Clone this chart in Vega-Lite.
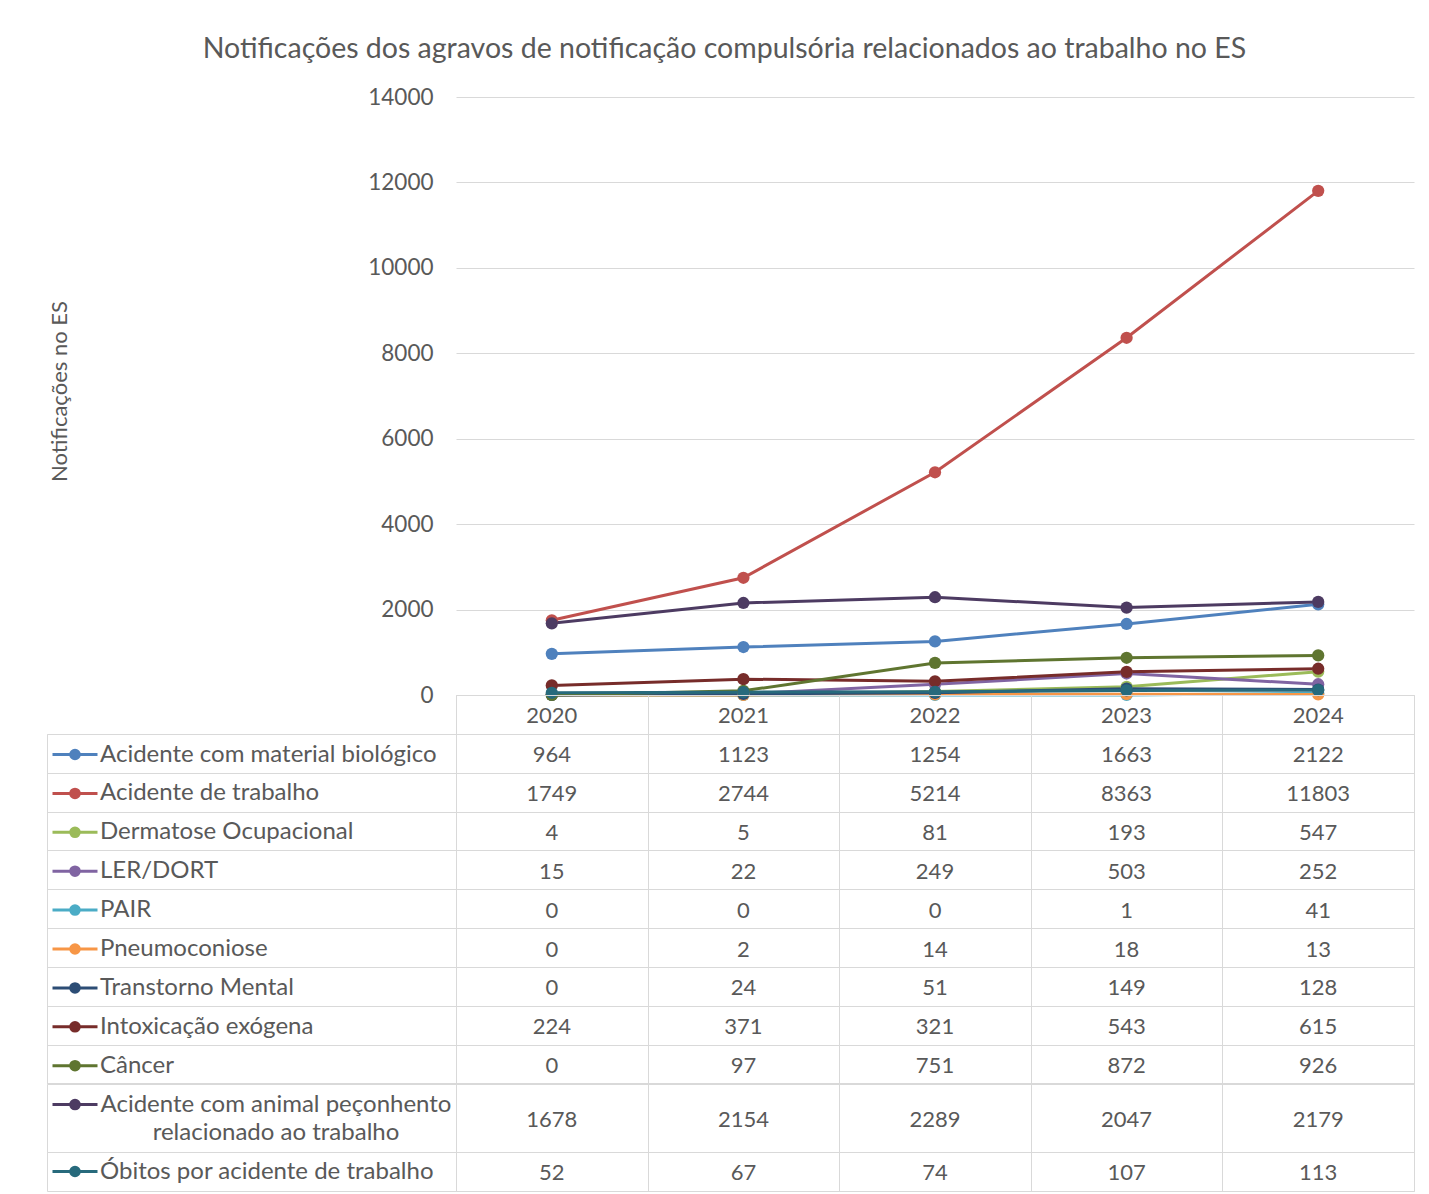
{
  "$schema": "https://vega.github.io/schema/vega-lite/v6.json",
  "background": "white",
  "padding": {"left": 46, "top": 34, "right": 16, "bottom": 4},
  "title": {
    "text": "Notificações dos agravos de notificação compulsória relacionados ao trabalho no ES",
    "font": "Lato", "fontSize": 28.5, "fontWeight": "normal", "color": "#595959",
    "anchor": "middle", "frame": "bounds", "dx": -6, "offset": 23
  },
  "datasets": {
    "d": [
      {"serie": "Acidente com material biológico", "year": "2020", "value": 964},
      {"serie": "Acidente com material biológico", "year": "2021", "value": 1123},
      {"serie": "Acidente com material biológico", "year": "2022", "value": 1254},
      {"serie": "Acidente com material biológico", "year": "2023", "value": 1663},
      {"serie": "Acidente com material biológico", "year": "2024", "value": 2122},
      {"serie": "Acidente de trabalho", "year": "2020", "value": 1749},
      {"serie": "Acidente de trabalho", "year": "2021", "value": 2744},
      {"serie": "Acidente de trabalho", "year": "2022", "value": 5214},
      {"serie": "Acidente de trabalho", "year": "2023", "value": 8363},
      {"serie": "Acidente de trabalho", "year": "2024", "value": 11803},
      {"serie": "Dermatose Ocupacional", "year": "2020", "value": 4},
      {"serie": "Dermatose Ocupacional", "year": "2021", "value": 5},
      {"serie": "Dermatose Ocupacional", "year": "2022", "value": 81},
      {"serie": "Dermatose Ocupacional", "year": "2023", "value": 193},
      {"serie": "Dermatose Ocupacional", "year": "2024", "value": 547},
      {"serie": "LER/DORT", "year": "2020", "value": 15},
      {"serie": "LER/DORT", "year": "2021", "value": 22},
      {"serie": "LER/DORT", "year": "2022", "value": 249},
      {"serie": "LER/DORT", "year": "2023", "value": 503},
      {"serie": "LER/DORT", "year": "2024", "value": 252},
      {"serie": "PAIR", "year": "2020", "value": 0},
      {"serie": "PAIR", "year": "2021", "value": 0},
      {"serie": "PAIR", "year": "2022", "value": 0},
      {"serie": "PAIR", "year": "2023", "value": 1},
      {"serie": "PAIR", "year": "2024", "value": 41},
      {"serie": "Pneumoconiose", "year": "2020", "value": 0},
      {"serie": "Pneumoconiose", "year": "2021", "value": 2},
      {"serie": "Pneumoconiose", "year": "2022", "value": 14},
      {"serie": "Pneumoconiose", "year": "2023", "value": 18},
      {"serie": "Pneumoconiose", "year": "2024", "value": 13},
      {"serie": "Transtorno Mental", "year": "2020", "value": 0},
      {"serie": "Transtorno Mental", "year": "2021", "value": 24},
      {"serie": "Transtorno Mental", "year": "2022", "value": 51},
      {"serie": "Transtorno Mental", "year": "2023", "value": 149},
      {"serie": "Transtorno Mental", "year": "2024", "value": 128},
      {"serie": "Intoxicação exógena", "year": "2020", "value": 224},
      {"serie": "Intoxicação exógena", "year": "2021", "value": 371},
      {"serie": "Intoxicação exógena", "year": "2022", "value": 321},
      {"serie": "Intoxicação exógena", "year": "2023", "value": 543},
      {"serie": "Intoxicação exógena", "year": "2024", "value": 615},
      {"serie": "Câncer", "year": "2020", "value": 0},
      {"serie": "Câncer", "year": "2021", "value": 97},
      {"serie": "Câncer", "year": "2022", "value": 751},
      {"serie": "Câncer", "year": "2023", "value": 872},
      {"serie": "Câncer", "year": "2024", "value": 926},
      {"serie": "Acidente com animal peçonhento relacionado ao trabalho", "year": "2020", "value": 1678},
      {"serie": "Acidente com animal peçonhento relacionado ao trabalho", "year": "2021", "value": 2154},
      {"serie": "Acidente com animal peçonhento relacionado ao trabalho", "year": "2022", "value": 2289},
      {"serie": "Acidente com animal peçonhento relacionado ao trabalho", "year": "2023", "value": 2047},
      {"serie": "Acidente com animal peçonhento relacionado ao trabalho", "year": "2024", "value": 2179},
      {"serie": "Óbitos por acidente de trabalho", "year": "2020", "value": 52},
      {"serie": "Óbitos por acidente de trabalho", "year": "2021", "value": 67},
      {"serie": "Óbitos por acidente de trabalho", "year": "2022", "value": 74},
      {"serie": "Óbitos por acidente de trabalho", "year": "2023", "value": 107},
      {"serie": "Óbitos por acidente de trabalho", "year": "2024", "value": 113}
    ]
  },
  "columns": 2,
  "spacing": 0,
  "bounds": "flush",
  "align": "each",
  "concat": [
    {
      "width": 409, "height": 598,
      "data": {"values": [{}]},
      "mark": {"type": "text", "text": ""}
    },
    {
      "width": 958, "height": 598,
      "data": {"name": "d"},
      "encoding": {
        "x": {"field": "year", "type": "ordinal", "axis": null},
        "y": {
          "field": "value", "type": "quantitative",
          "scale": {"domain": [0, 14000], "nice": false},
          "axis": {
            "values": [0, 2000, 4000, 6000, 8000, 10000, 12000, 14000],
            "format": "d", "labelFont": "Lato", "labelFontSize": 22.5, "labelColor": "#595959",
            "labelPadding": 23, "ticks": false, "domain": false,
            "grid": true, "gridColor": "#d9d9d9", "gridWidth": 1,
            "title": "Notificações no ES", "titleFont": "Lato", "titleFontSize": 22,
            "titleFontWeight": "normal", "titleColor": "#595959",
            "titleX": -397, "titleY": 294, "titleAngle": -90, "titleAlign": "center", "titleBaseline": "middle"
          }
        },
        "color": {
          "field": "serie", "type": "nominal",
          "scale": {
            "domain": ["Acidente com material biológico", "Acidente de trabalho", "Dermatose Ocupacional", "LER/DORT", "PAIR", "Pneumoconiose", "Transtorno Mental", "Intoxicação exógena", "Câncer", "Acidente com animal peçonhento relacionado ao trabalho", "Óbitos por acidente de trabalho"],
            "range": ["#4F81BD", "#C0504D", "#9BBB59", "#8064A2", "#4BACC6", "#F79646", "#2C4D75", "#772C2A", "#5F7530", "#4D3B62", "#276A7C"]
          },
          "legend": {
            "orient": "none", "legendX": 4, "legendY": 633.5, "title": null,
            "padding": 0, "offset": 0,
            "symbolType": "M-1,0L1,0M-0.19,0A0.19,0.19,0,1,1,0.19,0A0.19,0.19,0,1,1,-0.19,0Z",
            "symbolSize": 2025, "symbolStrokeWidth": 3, "symbolOpacity": 1,
            "labelFont": "Lato", "labelFontSize": 24, "labelColor": "#595959",
            "labelOffset": 1, "labelLimit": 0, "rowPadding": 2.9,
            "labelExpr": "datum.label == 'Acidente com animal peçonhento relacionado ao trabalho' ? ['Acidente com animal peçonhento', 'relacionado ao trabalho'] : datum.label",
            "encode": {
              "symbols": {"update": {
                "fill": {"scale": "color", "field": "value"},
                "stroke": {"scale": "color", "field": "value"},
                "strokeWidth": {"value": 3},
                "opacity": {"value": 1}
              }},
              "labels": {"update": {
                "lineHeight": {"value": 28},
                "align": {"signal": "datum.value === 'Acidente com animal peçonhento relacionado ao trabalho' ? 'center' : 'left'"},
                "dx": {"signal": "datum.value === 'Acidente com animal peçonhento relacionado ao trabalho' ? 176 : 0"}
              }}
            }
          }
        }
      },
      "layer": [
        {"mark": {"type": "line", "strokeWidth": 3}},
        {"mark": {"type": "point", "filled": true, "size": 150, "opacity": 1}}
      ]
    },
    {
      "width": 409, "height": 39,
      "data": {"values": [{}]},
      "mark": {"type": "text", "text": ""}
    },
    {
      "width": 958, "height": 39,
      "data": {"name": "d"},
      "transform": [{"filter": {"field": "serie", "equal": "Acidente com material biológico"}}],
      "mark": {"type": "text", "font": "Lato", "fontSize": 22, "color": "#595959", "baseline": "middle", "dy": 1},
      "encoding": {
        "x": {"field": "year", "type": "ordinal", "scale": {"type": "band", "paddingInner": 0, "paddingOuter": 0},
          "axis": {"grid": true, "tickBand": "extent", "labels": false, "ticks": false, "domain": false, "title": null, "gridColor": "#d9d9d9", "gridWidth": 1}},
        "text": {"field": "year", "type": "nominal"}
      },
      "view": {"stroke": "#d9d9d9"}
    },
    {
      "width": 409, "height": 349.4,
      "data": {"name": "d"},
      "transform": [
        {"filter": {"field": "year", "equal": "2020"}},
        {"filter": {"field": "serie", "oneOf": ["Acidente com material biológico", "Acidente de trabalho", "Dermatose Ocupacional", "LER/DORT", "PAIR", "Pneumoconiose", "Transtorno Mental", "Intoxicação exógena", "Câncer"]}}
      ],
      "mark": {"type": "text", "text": ""},
      "encoding": {
        "y": {"field": "serie", "type": "nominal",
          "scale": {"type": "band", "paddingInner": 0, "paddingOuter": 0, "domain": ["Acidente com material biológico", "Acidente de trabalho", "Dermatose Ocupacional", "LER/DORT", "PAIR", "Pneumoconiose", "Transtorno Mental", "Intoxicação exógena", "Câncer"]},
          "axis": {"grid": true, "tickBand": "extent", "labels": false, "ticks": false, "domain": false, "title": null, "gridColor": "#d9d9d9", "gridWidth": 1}}
      },
      "view": {"stroke": "#d9d9d9"}
    },
    {
      "width": 958, "height": 349.4,
      "data": {"name": "d"},
      "transform": [
        {"filter": {"field": "serie", "oneOf": ["Acidente com material biológico", "Acidente de trabalho", "Dermatose Ocupacional", "LER/DORT", "PAIR", "Pneumoconiose", "Transtorno Mental", "Intoxicação exógena", "Câncer"]}}
      ],
      "mark": {"type": "text", "font": "Lato", "fontSize": 22, "color": "#595959", "baseline": "middle", "dy": 2},
      "encoding": {
        "x": {"field": "year", "type": "ordinal", "scale": {"type": "band", "paddingInner": 0, "paddingOuter": 0},
          "axis": {"grid": true, "tickBand": "extent", "labels": false, "ticks": false, "domain": false, "title": null, "gridColor": "#d9d9d9", "gridWidth": 1}},
        "y": {"field": "serie", "type": "nominal",
          "scale": {"type": "band", "paddingInner": 0, "paddingOuter": 0, "domain": ["Acidente com material biológico", "Acidente de trabalho", "Dermatose Ocupacional", "LER/DORT", "PAIR", "Pneumoconiose", "Transtorno Mental", "Intoxicação exógena", "Câncer"]},
          "axis": {"grid": true, "tickBand": "extent", "labels": false, "ticks": false, "domain": false, "title": null, "gridColor": "#d9d9d9", "gridWidth": 1}},
        "text": {"field": "value", "type": "quantitative", "format": "d"}
      },
      "view": {"stroke": "#d9d9d9"}
    },
    {
      "width": 409, "height": 68,
      "data": {"values": [{}]},
      "mark": {"type": "text", "text": ""},
      "view": {"stroke": "#d9d9d9"}
    },
    {
      "width": 958, "height": 68,
      "data": {"name": "d"},
      "transform": [{"filter": {"field": "serie", "equal": "Acidente com animal peçonhento relacionado ao trabalho"}}],
      "mark": {"type": "text", "font": "Lato", "fontSize": 22, "color": "#595959", "baseline": "middle", "dy": 2},
      "encoding": {
        "x": {"field": "year", "type": "ordinal", "scale": {"type": "band", "paddingInner": 0, "paddingOuter": 0},
          "axis": {"grid": true, "tickBand": "extent", "labels": false, "ticks": false, "domain": false, "title": null, "gridColor": "#d9d9d9", "gridWidth": 1}},
        "text": {"field": "value", "type": "quantitative", "format": "d"}
      },
      "view": {"stroke": "#d9d9d9"}
    },
    {
      "width": 409, "height": 39,
      "data": {"values": [{}]},
      "mark": {"type": "text", "text": ""},
      "view": {"stroke": "#d9d9d9"}
    },
    {
      "width": 958, "height": 39,
      "data": {"name": "d"},
      "transform": [{"filter": {"field": "serie", "equal": "Óbitos por acidente de trabalho"}}],
      "mark": {"type": "text", "font": "Lato", "fontSize": 22, "color": "#595959", "baseline": "middle", "dy": 1},
      "encoding": {
        "x": {"field": "year", "type": "ordinal", "scale": {"type": "band", "paddingInner": 0, "paddingOuter": 0},
          "axis": {"grid": true, "tickBand": "extent", "labels": false, "ticks": false, "domain": false, "title": null, "gridColor": "#d9d9d9", "gridWidth": 1}},
        "text": {"field": "value", "type": "quantitative", "format": "d"}
      },
      "view": {"stroke": "#d9d9d9"}
    }
  ],
  "config": {
    "font": "Lato",
    "view": {"stroke": null}
  }
}
